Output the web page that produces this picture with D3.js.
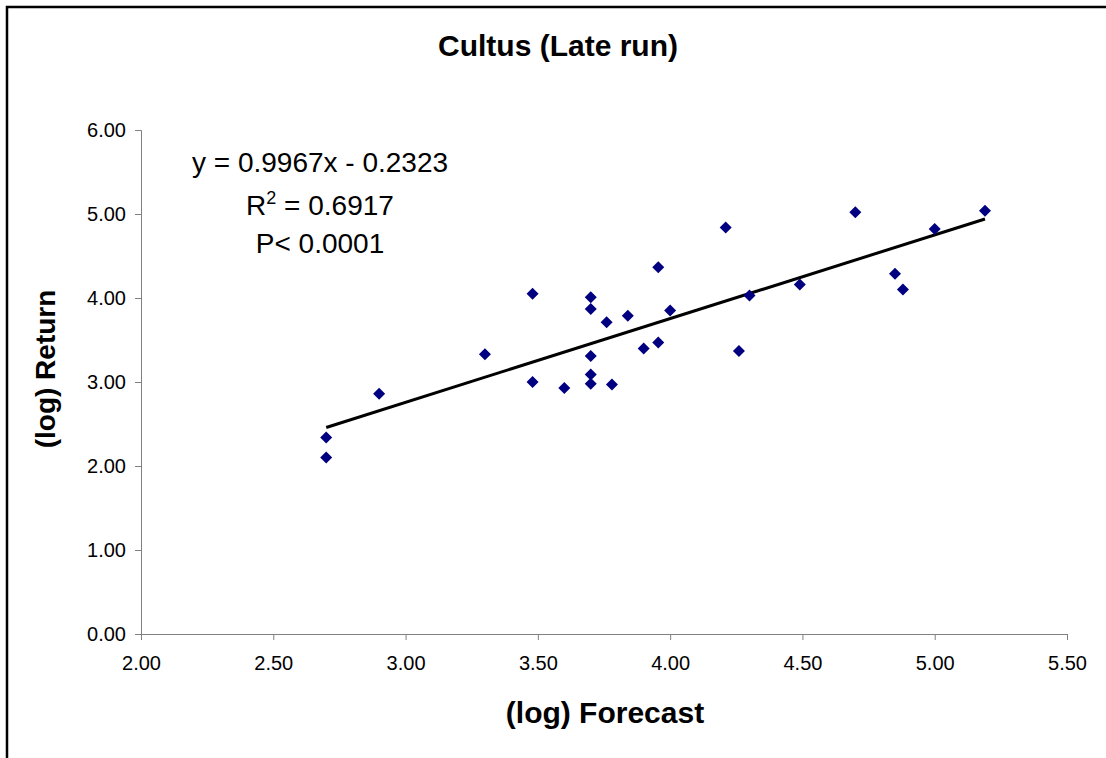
<!DOCTYPE html>
<html>
<head>
<meta charset="utf-8">
<script src="https://cdn.jsdelivr.net/npm/d3@7"></script>
<style>
  body { margin: 0; background: #fff; }
  text { font-family: "Liberation Sans", Arial, sans-serif; fill: #000; }
  .axis path, .axis line { stroke: #808080; }
  .axis text { font-size: 20px; }
  .axis-title { font-weight: bold; font-size: 30px; }
</style>
</head>
<body>
<div id="chart"></div>
<script>
// (log) forecast vs (log) return
const forecast = [2.70, 2.70, 2.90, 3.30, 3.48, 3.48, 3.60, 3.70, 3.70, 3.70, 3.70, 3.70,
                  3.76, 3.78, 3.84, 3.90, 3.955, 3.955, 4.00, 4.21, 4.26, 4.30, 4.49, 4.70,
                  4.85, 4.88, 5.00, 5.19];
const returns  = [2.34, 2.10, 2.86, 3.33, 4.05, 3.00, 2.93, 4.01, 3.87, 3.31, 3.09, 2.98,
                  3.71, 2.97, 3.79, 3.40, 4.365, 3.47, 3.85, 4.84, 3.37, 4.03, 4.16, 5.02,
                  4.29, 4.10, 4.82, 5.04];
const xTicks = [2.0, 2.5, 3.0, 3.5, 4.0, 4.5, 5.0, 5.5];
const yTicks = [0, 1, 2, 3, 4, 5, 6];
const slope = 0.9967, intercept = -0.2323;
const statLines = ['y = 0.9967x - 0.2323', 'R2 = 0.6917', 'P< 0.0001'];

const config = {
    width: 1106,
    height: 758,
    margin: { top: 130, right: 39, bottom: 124, left: 141 }
};

const innerW = config.width - config.margin.left - config.margin.right;
const innerH = config.height - config.margin.top - config.margin.bottom;

const svg = d3.select('#chart').append('svg')
    .attr('width', config.width)
    .attr('height', config.height);

// outer chart border (right and bottom fall outside the picture)
svg.append('rect')
    .attr('x', 7).attr('y', 7)
    .attr('width', config.width + 20).attr('height', config.height + 20)
    .attr('fill', 'none')
    .attr('stroke', '#000')
    .attr('stroke-width', 2.5);

const chart = svg.append('g')
    .attr('transform', `translate(${config.margin.left},${config.margin.top})`);

const xScale = d3.scaleLinear().domain([2, 5.5]).range([0, innerW]);
const yScale = d3.scaleLinear().domain([0, 6]).range([innerH, 0]);

const xAxis = d3.axisBottom(xScale)
    .tickValues(xTicks)
    .tickFormat(d3.format('.2f'))
    .tickSizeOuter(0)
    .tickSize(6)
    .tickPadding(16);

const yAxis = d3.axisLeft(yScale)
    .tickValues(yTicks)
    .tickFormat(d3.format('.2f'))
    .tickSizeOuter(0)
    .tickSize(6)
    .tickPadding(9);

chart.append('g')
    .attr('class', 'axis x-axis')
    .attr('transform', `translate(0,${innerH})`)
    .call(xAxis);

chart.append('g')
    .attr('class', 'axis y-axis')
    .call(yAxis);

d3.selectAll('.axis text').attr('font-family', null).attr('font-size', null);

// trend line over the data range
const xExt = d3.extent(forecast);
const trend = xExt.map(x => [x, slope * x + intercept]);
chart.append('path')
    .datum(trend)
    .attr('fill', 'none')
    .attr('stroke', '#000')
    .attr('stroke-width', 3)
    .attr('d', d3.line().x(d => xScale(d[0])).y(d => yScale(d[1])));

// points
const points = forecast.map((f, i) => ({ x: f, y: returns[i] }));
chart.selectAll('.pt')
    .data(points)
    .join('path')
    .attr('class', 'pt')
    .attr('d', d3.symbol(d3.symbolSquare, 72))
    .attr('transform', d => `translate(${xScale(d.x)},${yScale(d.y)}) rotate(45)`)
    .attr('fill', '#000080');

// title
svg.append('text')
    .attr('x', 558).attr('y', 56)
    .attr('text-anchor', 'middle')
    .style('font-weight', 'bold')
    .style('font-size', '30px')
    .text('Cultus (Late run)');

// regression stats
const stats = svg.append('g').attr('transform', 'translate(320,0)');
stats.append('text')
    .attr('y', 172).attr('text-anchor', 'middle').style('font-size', '28px')
    .text(statLines[0]);
const r2 = stats.append('text')
    .attr('y', 215).attr('text-anchor', 'middle').style('font-size', '28px');
r2.append('tspan').text('R');
r2.append('tspan').attr('dy', -11).style('font-size', '18px').text('2');
r2.append('tspan').attr('dy', 11).text(statLines[1].slice(2));
stats.append('text')
    .attr('y', 253).attr('text-anchor', 'middle').style('font-size', '28px')
    .text(statLines[2]);

// axis titles
svg.append('text')
    .attr('class', 'axis-title')
    .attr('x', 605).attr('y', 723)
    .attr('text-anchor', 'middle')
    .text('(log) Forecast');

svg.append('text')
    .attr('class', 'axis-title')
    .attr('transform', 'translate(55,369) rotate(-90)')
    .attr('text-anchor', 'middle')
    .style('font-size', '28px')
    .text('(log) Return');
</script>
</body>
</html>
